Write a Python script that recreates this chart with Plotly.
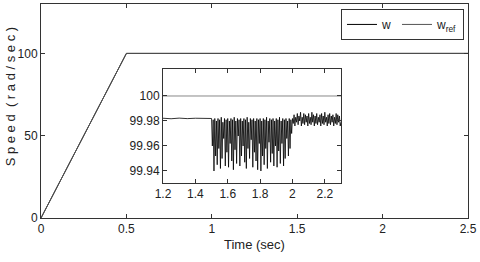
import numpy as np
import plotly.graph_objects as go

# main view: speed response and reference (rad/sec)
t_main = [0, 0.5, 2.5]
w_main = [0, 99.98, 99.98]
wref_main = [0, 100, 100]

# zoomed window
t_zoom_ref = [1.2, 2.3]
wref_zoom = [100, 100]

t_steady = [1.2, 1.25, 1.3, 1.35, 1.4, 1.45, 1.5]
w_steady = [99.9822, 99.9818, 99.9823, 99.9819, 99.9822, 99.9820, 99.9822]

# load disturbance 1.5 - 2.0 s, samples every 0.005 s (peak, dip)
w_dist = [
    99.982, 99.960, 99.981, 99.940, 99.982, 99.952, 99.980, 99.945, 99.982, 99.958,
    99.981, 99.942, 99.983, 99.950, 99.979, 99.966, 99.982, 99.944, 99.981, 99.955,
    99.982, 99.943, 99.980, 99.962, 99.982, 99.948, 99.981, 99.941, 99.983, 99.957,
    99.980, 99.946, 99.982, 99.968, 99.981, 99.944, 99.982, 99.952, 99.980, 99.960,
    99.982, 99.947, 99.981, 99.942, 99.983, 99.958, 99.979, 99.950, 99.982, 99.965,
    99.981, 99.943, 99.982, 99.955, 99.980, 99.948, 99.982, 99.941, 99.981, 99.962,
    99.982, 99.940, 99.980, 99.952, 99.982, 99.945, 99.981, 99.958, 99.983, 99.942,
    99.980, 99.963, 99.982, 99.947, 99.981, 99.954, 99.982, 99.944, 99.980, 99.960,
    99.982, 99.943, 99.981, 99.956, 99.983, 99.946, 99.980, 99.962, 99.982, 99.944,
    99.981, 99.950, 99.982, 99.966, 99.980, 99.952, 99.982, 99.958, 99.981, 99.970,
    99.982,
]
t_dist = np.round(np.arange(1.5, 2.0001, 0.005), 3)

# after 2.0 s
w_after = [
    99.978, 99.985, 99.976, 99.983, 99.979, 99.986, 99.977, 99.984, 99.980, 99.987,
    99.976, 99.983, 99.978, 99.986, 99.977, 99.985, 99.979, 99.984, 99.976, 99.986,
    99.978, 99.983, 99.977, 99.987, 99.979, 99.985, 99.976, 99.984, 99.978, 99.986,
    99.977, 99.983, 99.979, 99.985, 99.976, 99.986, 99.978, 99.984, 99.977, 99.987,
    99.979, 99.983, 99.976, 99.985, 99.978, 99.986, 99.977, 99.984, 99.979, 99.985,
    99.976, 99.983, 99.978, 99.986, 99.977, 99.985, 99.979, 99.984, 99.976, 99.979,
]
t_after = np.round(np.arange(2.005, 2.3001, 0.005), 3)

t_zoom = list(t_steady) + list(t_dist) + list(t_after)
w_zoom = w_steady + w_dist + w_after

font = dict(family="Liberation Sans Narrow, Arial Narrow, Liberation Sans, Arial", size=12, color="#222")
axcol = "#333"

fig = go.Figure()
fig.add_trace(go.Scatter(x=t_main, y=w_main, mode="lines", name="w",
                         line=dict(color="black", width=1)))
fig.add_trace(go.Scatter(x=t_main, y=wref_main, mode="lines", name="w<sub>ref</sub>",
                         line=dict(color="#555", width=1)))
fig.add_trace(go.Scatter(x=t_zoom, y=w_zoom, mode="lines", showlegend=False,
                         line=dict(color="black", width=0.8), xaxis="x2", yaxis="y2"))
fig.add_trace(go.Scatter(x=t_zoom_ref, y=wref_zoom, mode="lines", showlegend=False,
                         line=dict(color="#888", width=1), xaxis="x2", yaxis="y2"))

common = dict(showgrid=False, zeroline=False, showline=True, linecolor=axcol, linewidth=1,
              mirror="ticks", ticks="inside", ticklen=4, tickcolor=axcol, automargin=False)

fig.update_layout(
    width=480, height=262,
    margin=dict(l=41, r=12, t=4, b=44),
    paper_bgcolor="white", plot_bgcolor="white",
    font=font,
    xaxis=dict(range=[0, 2.5], tickvals=[0, 0.5, 1, 1.5, 2, 2.5],
               ticktext=["0", "0.5", "1", "1.5", "2", "2.5"], **common),
    yaxis=dict(range=[0, 130], tickvals=[0, 50, 100], **common),
    xaxis2=dict(domain=[0.2857, 0.7026], anchor="y2", range=[1.2, 2.3],
                tickvals=[1.2, 1.4, 1.6, 1.8, 2, 2.2],
                ticktext=["1.2", "1.4", "1.6", "1.8", "2", "2.2"], **common),
    yaxis2=dict(domain=[0.1636, 0.6963], anchor="x2", range=[99.9304, 100.0216],
                tickvals=[99.94, 99.96, 99.98, 100],
                ticktext=["99.94", "99.96", "99.98", "100"], **common),
    legend=dict(orientation="h", x=0.9906, y=0.977, xanchor="right", yanchor="top",
                bordercolor=axcol, borderwidth=1, bgcolor="white",
                font=dict(size=12), itemwidth=30, tracegroupgap=0),
    showlegend=True,
    annotations=[
        dict(text="Time (sec)", xref="paper", yref="paper", x=0.5, y=-0.125,
             xanchor="center", yanchor="middle", showarrow=False, font=dict(size=13)),
        dict(text="S p e e d  ( r a d / s e c )", xref="paper", yref="paper",
             x=-0.072, y=0.565, textangle=-90, xanchor="center", yanchor="middle",
             showarrow=False, font=dict(size=13)),
    ],
)

fig.write_html("out.html", config={"displayModeBar": False},
               post_script="document.body.style.margin='0';")
